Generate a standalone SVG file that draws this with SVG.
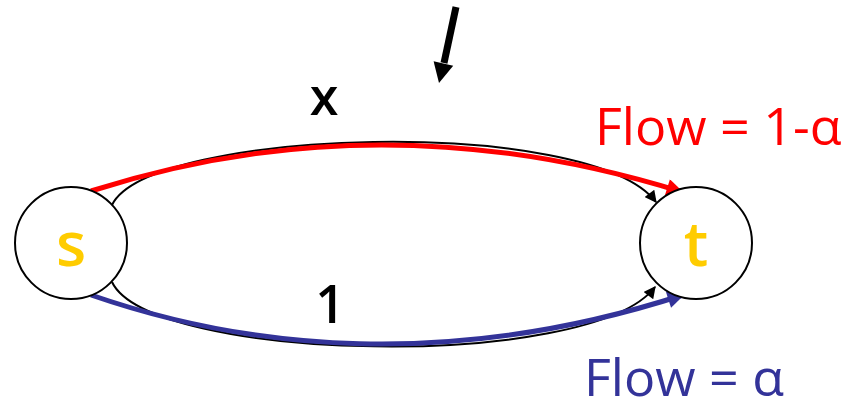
<svg xmlns="http://www.w3.org/2000/svg" width="857" height="404" viewBox="0 0 857 404">
<style>
.node{fill:#fff;stroke:#000;stroke-width:2}
.lbl{font-family:"Open Sans","DejaVu Sans",sans-serif;fill:#FFCC00;font-size:62px;font-weight:600;text-anchor:middle}
.edge{fill:none;stroke:#000;stroke-width:2}
.red{fill:none;stroke:#FF0000;stroke-width:5}
.blue{fill:none;stroke:#333399;stroke-width:5}
.txt{font-family:"Open Sans","DejaVu Sans",sans-serif;font-size:52px}
</style>
<defs>
<marker id="ab" viewBox="0 0 10 10" refX="9" refY="5" markerWidth="13" markerHeight="12" orient="auto" markerUnits="userSpaceOnUse"><path d="M0,0 L10,5 L0,10 Z" fill="#000"/></marker>
<marker id="ar" viewBox="0 0 10 10" refX="9" refY="5" markerWidth="3.8" markerHeight="3.4" orient="auto"><path d="M0,0 L10,5 L0,10 Z" fill="#FF0000"/></marker>
<marker id="abl" viewBox="0 0 10 10" refX="9" refY="5" markerWidth="3.8" markerHeight="3.4" orient="auto"><path d="M0,0 L10,5 L0,10 Z" fill="#333399"/></marker>
</defs>
<g id="connectors">
<path class="edge" d="M112,205 C150,128 590,115 656,202" marker-end="url(#ab)"/>
<path class="edge" d="M112,282 C150,362 590,372 655,287" marker-end="url(#ab)"/>
<path class="red" d="M91,191 C250,140 450,120 682,192" marker-end="url(#ar)"/>
<path class="blue" d="M91,295 C250,350 450,370 683,295" marker-end="url(#abl)"/>
<path d="M456,7 L444,63" stroke="#000" stroke-width="7" fill="none"/>
<polygon points="439,83 453.2,65.7 433.6,61.3" fill="#000"/>
</g>
<g id="node-s">
<circle class="node" cx="71" cy="243" r="56"/>
<text class="lbl" x="71" y="266">s</text>
</g>
<g id="node-t">
<circle class="node" cx="696" cy="243" r="56"/>
<text class="lbl" x="696" y="266">t</text>
</g>
<g id="labels">
<text class="txt" x="324" y="115" text-anchor="middle" fill="#000" font-size="56" font-weight="600">x</text>
<text class="txt" x="330" y="323" text-anchor="middle" fill="#000" font-size="64" font-weight="600">1</text>
<text class="txt" x="595" y="145" fill="#FF0000">Flow = 1-α</text>
<text class="txt" x="584" y="396" fill="#333399">Flow = α</text>
</g>
</svg>
